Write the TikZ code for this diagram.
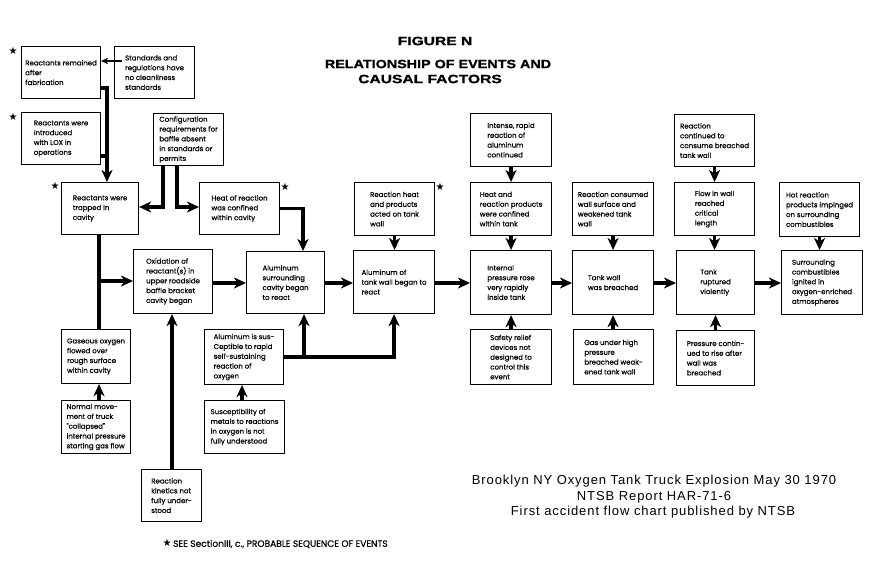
\documentclass[tikz,border=0pt]{standalone}
\usepackage{fontspec}
\setmainfont{Poppins}[FakeBold=0.4]
\newfontfamily\boxfont{Poppins}[FakeBold=0.5]
\newfontfamily\titlefont{Liberation Sans Bold}[FakeStretch=1.3, FakeBold=1.2]
\newfontfamily\capfont{Liberation Sans}[LetterSpace=7]
\newfontfamily\symfont{DejaVu Sans}
\usetikzlibrary{arrows.meta}
\begin{document}
\begin{tikzpicture}[x=1pt,y=-1pt,
  box/.style={draw, line width=1.1pt, align=left, anchor=north west, inner sep=0pt,
    font=\boxfont\fontsize{7}{9.8}\selectfont},
  conn/.style={line width=3.2pt, -{Stealth[length=12pt,width=11pt,inset=3.5pt]}},
  bar/.style={line width=3.2pt},
  thinconn/.style={line width=1.8pt, -{Stealth[length=7pt,width=6.5pt,inset=2pt]}},
  star/.style={font=\symfont\fontsize{10}{10}\selectfont, inner sep=0pt},
  ttl/.style={font=\titlefont\fontsize{12}{12}\selectfont, inner sep=0pt},
  captxt/.style={font=\capfont\fontsize{13}{13}\selectfont, inner sep=0pt}]
\useasboundingbox (0,0) rectangle (883,584);
% title
\node[ttl] (t1) at (435,41) {FIGURE N};
\node[ttl, xscale=0.92] (t2) at (438,64) {RELATIONSHIP OF EVENTS AND};
\node[ttl] (t3) at (430,79) {CAUSAL FACTORS};
% boxes
\node[box, minimum width=79pt, minimum height=52pt] (rem) at (21,46) {Reactants remained\\after\\fabrication};
\node[box, minimum width=80pt, minimum height=52pt] (std) at (114,46) {Standards and\\regulations have\\no cleanliness\\standards};
\node[box, minimum width=79pt, minimum height=52pt] (lox) at (21,112) {Reactants were\\introduced\\with LOX in\\operations};
\node[box, minimum width=70pt, minimum height=52pt] (cfg) at (153,113) {Configuration\\requirements for\\baffle absent\\in standards or\\permits};
\node[box, minimum width=77pt, minimum height=52pt] (trap) at (61,182) {Reactants were\\trapped in\\cavity};
\node[box, minimum width=80pt, minimum height=52pt] (heat) at (199,182) {Heat of reaction\\was confined\\within cavity};
\node[box, minimum width=79pt, minimum height=64pt] (oxid) at (133,249) {Oxidation of\\reactant(s) in\\upper roadside\\baffle bracket\\cavity began};
\node[box, minimum width=78pt, minimum height=62pt] (alsur) at (246,251) {Aluminum\\surrounding\\cavity began\\to react};
\node[box, minimum width=69pt, minimum height=54pt] (gas) at (61,329) {Gaseous oxygen\\flowed over\\rough surface\\within cavity};
\node[box, minimum width=69pt, minimum height=53pt] (norm) at (61,400) {Normal move-\\ment of truck\\"collapsed"\\internal pressure\\starting gas flow};
\node[box, minimum width=60pt, minimum height=52pt] (kin) at (141,469) {Reaction\\kinetics not\\fully under-\\stood};
\node[box, minimum width=79pt, minimum height=55pt] (alsus) at (204,329) {Aluminum is sus-\\Ceptible to rapid\\self-sustaining\\reaction of\\oxygen};
\node[box, minimum width=80pt, minimum height=53pt] (susc) at (204,400) {Susceptibility of\\metals to reactions\\in oxygen is not\\fully understood};
\node[box, minimum width=80pt, minimum height=53pt] (rheat) at (354,182) {Reaction heat\\and products\\acted on tank\\wall};
\node[box, minimum width=81pt, minimum height=63pt] (altank) at (353,250) {Aluminum of\\tank wall began to\\react};
\node[box, minimum width=81pt, minimum height=53pt] (intense) at (470,113) {Intense, rapid\\reaction of\\aluminum\\continued};
\node[box, minimum width=81pt, minimum height=53pt] (hconf) at (470,182) {Heat and\\reaction products\\were confined\\within tank};
\node[box, minimum width=81pt, minimum height=64pt] (intp) at (470,250) {Internal\\pressure rose\\very rapidly\\inside tank};
\node[box, minimum width=81pt, minimum height=55pt] (safety) at (470,329) {Safety relief\\devices not\\designed to\\control this\\event};
\node[box, minimum width=81pt, minimum height=53pt] (rcons) at (572,182) {Reaction consumed\\wall surface and\\weakened tank\\wall};
\node[box, minimum width=81pt, minimum height=64pt] (breach) at (572,250) {Tank wall\\was breached};
\node[box, minimum width=80pt, minimum height=55pt] (gashp) at (573,329) {Gas under high\\pressure\\breached weak-\\ened tank wall};
\node[box, minimum width=80pt, minimum height=52pt] (rcont) at (674,114) {Reaction\\continued to\\consume breached\\tank wall};
\node[box, minimum width=80pt, minimum height=53pt] (flow) at (674,182) {Flow in wall\\reached\\critical\\length};
\node[box, minimum width=78pt, minimum height=64pt] (rupt) at (676,250) {Tank\\ruptured\\violently};
\node[box, minimum width=78pt, minimum height=55pt] (press) at (676,330) {Pressure contin-\\ued to rise after\\wall was\\breached};
\node[box, minimum width=80pt, minimum height=54pt] (hot) at (779,182) {Hot reaction\\products impinged\\on surrounding\\combustibles};
\node[box, minimum width=81pt, minimum height=64pt] (surr) at (781,250) {Surrounding\\combustibles\\ignited in\\oxygen-enriched\\atmospheres};
% stars
\node[star] (s1) at (13,51) {★};
\node[star] (s2) at (13,117) {★};
\node[star] (s3) at (55,186) {★};
\node[star] (s4) at (285,187) {★};
\node[star] (s5) at (440,187) {★};
% junction coordinates
\coordinate (j1) at (107,88);
\coordinate (j2) at (107,156);
\coordinate (j3) at (99,281);
\coordinate (row) at (0,283);
% connectors
\draw[thinconn] ([xshift=8pt]std.west |- 0,61) -- (rem.east |- 0,61);
\draw[conn] (rem.east |- j1) -| (trap.north -| j1);
\draw[bar] (lox.east |- j2) -- (j2);
\draw[conn] (cfg.south -| 163,0) |- (trap.east |- 0,207);
\draw[conn] (cfg.south -| 177,0) |- (heat.west |- 0,207);
\draw[conn] (heat.east) -| (alsur.north -| 303,0);
\draw[bar] (trap.south -| j3) -- (gas.north -| j3);
\draw[conn] (j3) -- (oxid.west |- j3);
\draw[conn] (norm.north -| j3) -- (gas.south -| j3);
\draw[conn] (kin.north -| 172,0) -- (oxid.south -| 172,0);
\draw[conn] (alsus.east) -| (altank.south);
\draw[conn] (alsus.east -| 304,0) -- (alsur.south -| 304,0);
\draw[conn] (susc.north -| 242,0) -- (alsus.south -| 242,0);
\draw[conn] (oxid.east |- row) -- (alsur.west |- row);
\draw[conn] (alsur.east |- row) -- (altank.west |- row);
\draw[conn] (altank.east |- row) -- (intp.west |- row);
\draw[conn] (intp.east |- row) -- (breach.west |- row);
\draw[conn] (breach.east |- row) -- (rupt.west |- row);
\draw[conn] (rupt.east |- row) -- (surr.west |- row);
\draw[conn] (rheat.south) -- (altank.north -| rheat.south);
\draw[conn] (intense.south) -- (hconf.north);
\draw[conn] (hconf.south) -- (intp.north);
\draw[conn] (safety.north) -- (intp.south);
\draw[conn] (rcons.south) -- (breach.north);
\draw[conn] (gashp.north -| breach.south) -- (breach.south);
\draw[conn] (rcont.south) -- (flow.north);
\draw[conn] (flow.south) -- (rupt.north -| flow.south);
\draw[conn] (press.north) -- (rupt.south);
\draw[conn] (hot.south) -- (surr.north -| hot.south);
% footnote
\node[star] (s6) at (167,543) {★};
\node[anchor=west, inner sep=0pt, font=\fontsize{9.1}{9.5}\selectfont] (fn) at (173,544) {SEE SectionIII, c., PROBABLE SEQUENCE OF EVENTS};
% caption
\node[captxt] (c1) at (654,481) {Brooklyn NY Oxygen Tank Truck Explosion May 30 1970};
\node[captxt] (c2) at (654,497) {NTSB Report HAR-71-6};
\node[captxt] (c3) at (653,512) {First accident flow chart published by NTSB};
\end{tikzpicture}
\end{document}
